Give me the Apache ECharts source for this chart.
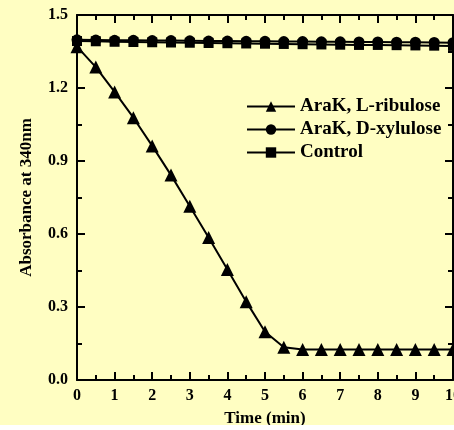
<!DOCTYPE html>
<html>
<head>
<meta charset="utf-8">
<script src="https://cdn.jsdelivr.net/npm/echarts@6/dist/echarts.min.js"></script>
<style>
    html, body { margin: 0; padding: 0; background: #fff; }
    #chart { width: 454px; height: 425px; background: #FFFEC2; }
</style>
</head>
<body>
<div id="chart"></div>
<script>
// time points (min)
const times = [0, 0.5, 1, 1.5, 2, 2.5, 3, 3.5, 4, 4.5, 5, 5.5, 6, 6.5, 7, 7.5, 8, 8.5, 9, 9.5, 10];
const seriesNames = ['AraK, L-ribulose', 'AraK, D-xylulose', 'Control'];
// absorbance values
const ribulose = [1.37, 1.286, 1.184, 1.078, 0.962, 0.842, 0.714, 0.586, 0.454, 0.322, 0.198, 0.135,
    0.125, 0.125, 0.125, 0.125, 0.125, 0.125, 0.125, 0.125, 0.125];
const xylulose = [1.398, 1.397, 1.396, 1.396, 1.395, 1.395, 1.394, 1.393, 1.393, 1.392, 1.392,
    1.391, 1.391, 1.390, 1.390, 1.389, 1.389, 1.388, 1.388, 1.387, 1.386];
const control = [1.393, 1.392, 1.390, 1.389, 1.388, 1.387, 1.386, 1.385, 1.384, 1.383, 1.382,
    1.381, 1.380, 1.379, 1.378, 1.377, 1.377, 1.376, 1.375, 1.374, 1.373];

const font = "'Liberation Serif', 'Times New Roman', serif";
let mychart = echarts.init(document.getElementById('chart'));

function pairs(vals) {
    return times.map((t, i) => [t, vals[i]]);
}
function mkSeries(name, vals, symbol, size) {
    return {
        name: name,
        type: 'line',
        data: pairs(vals),
        symbol: symbol,
        symbolSize: size,
        showAllSymbol: true,
        lineStyle: { color: '#000', width: 2 },
        itemStyle: { color: '#000' },
        emphasis: { disabled: true },
        animation: false
    };
}

// 共用的刻度样式
const tickStyle = { inside: true, length: 8, lineStyle: { color: '#000', width: 2 } };
const minorStyle = { show: true, splitNumber: 2, length: 5, lineStyle: { color: '#000', width: 2 } };
const lineStyle = { show: true, onZero: false, lineStyle: { color: '#000', width: 2 } };

let option = {
    animation: false,
    grid: { left: 77, right: 1, top: 15, bottom: 45, outerBoundsMode: 'none', containLabel: false },
    legend: {
        orient: 'vertical',
        left: 241,
        top: 92,
        itemWidth: 48,
        itemHeight: 13,
        itemGap: 4,
        data: seriesNames,
        textStyle: { color: '#000', fontFamily: font, fontWeight: 'bold', fontSize: 19 }
    },
    xAxis: [
        {
            type: 'value', min: 0, max: 10, interval: 1,
            name: 'Time (min)', nameLocation: 'middle', nameGap: 30,
            nameTextStyle: { color: '#000', fontFamily: font, fontWeight: 'bold', fontSize: 17 },
            axisLine: lineStyle,
            axisTick: tickStyle,
            minorTick: minorStyle,
            axisLabel: { color: '#000', fontFamily: font, fontWeight: 'bold', fontSize: 16, margin: 8, showMaxLabel: true, hideOverlap: false },
            splitLine: { show: false }
        },
        {
            type: 'value', min: 0, max: 10, interval: 1, position: 'top',
            axisLine: lineStyle,
            axisTick: tickStyle,
            minorTick: minorStyle,
            axisLabel: { show: false },
            splitLine: { show: false }
        }
    ],
    yAxis: [
        {
            type: 'value', min: 0, max: 1.5, interval: 0.3,
            name: 'Absorbance at 340nm', nameLocation: 'middle', nameGap: 42,
            nameTextStyle: { color: '#000', fontFamily: font, fontWeight: 'bold', fontSize: 17 },
            axisLine: lineStyle,
            axisTick: tickStyle,
            minorTick: minorStyle,
            axisLabel: {
                color: '#000', fontFamily: font, fontWeight: 'bold', fontSize: 16, margin: 9,
                formatter: v => v.toFixed(1)
            },
            splitLine: { show: false }
        },
        {
            type: 'value', min: 0, max: 1.5, interval: 0.3, position: 'right',
            axisLine: lineStyle,
            axisTick: tickStyle,
            minorTick: minorStyle,
            axisLabel: { show: false },
            splitLine: { show: false }
        }
    ],
    series: [
        mkSeries(seriesNames[2], control, 'rect', 10),
        mkSeries(seriesNames[1], xylulose, 'circle', 11),
        mkSeries(seriesNames[0], ribulose, 'triangle', 13)
    ]
};
mychart.setOption(option);
</script>
</body>
</html>
